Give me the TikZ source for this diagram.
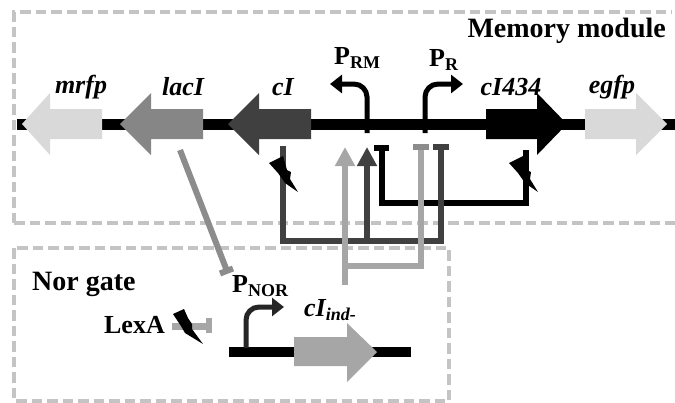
\documentclass[tikz,border=0pt]{standalone}
\usepackage{fontspec}
\setmainfont{Liberation Serif}
\usetikzlibrary{arrows.meta}
\definecolor{boxgray}{HTML}{C4C4C4}
\definecolor{darkline}{HTML}{404040}
\definecolor{lightline}{HTML}{A6A6A6}
\definecolor{midline}{HTML}{8C8C8C}
\tikzset{
  boxline/.style={boxgray,line width=3.2pt,dash pattern=on 10.5pt off 5pt},
  spine/.style={line width=10.5pt},
  promoter/.style={line width=5pt,rounded corners=13pt,-{Triangle[length=12pt,width=18pt]}},
  regline/.style={line width=6pt},
  genename/.style={font=\fontsize{26}{26}\selectfont\bfseries\itshape,inner sep=0pt},
  boldname/.style={font=\fontsize{28}{28}\selectfont\bfseries,inner sep=0pt},
  prname/.style={font=\fontsize{26}{26}\selectfont\bfseries,inner sep=0pt}
}
\newcommand{\subname}[1]{\raisebox{-4pt}{\fontsize{18}{18}\selectfont #1}}
\begin{document}
\begin{tikzpicture}[x=1pt,y=-1pt]
\useasboundingbox (0,0) rectangle (675,402);

% boxes
\draw[boxline] (14,223)--(14,12)--(672,12);
\draw[boxline] (14,223)--(675,223);
\draw[boxline] (14,248) rectangle (449,401);

% DNA
\draw[spine] (17,124.5)--(675,124.5);
\draw[spine] (229,352)--(411,352);

% genes
\fill[gray!30] (22,124) -- (50,93) -- (50,109) -- (102,109) -- (102,139) -- (50,139) -- (50,155) -- cycle;
\fill[gray!95] (120,124) -- (151,93) -- (151,109) -- (203,109) -- (203,139) -- (151,139) -- (151,155) -- cycle;
\fill[darkline] (228,124) -- (259,93) -- (259,109) -- (311,109) -- (311,139) -- (259,139) -- (259,155) -- cycle;
\fill[black] (567,124) -- (537,93) -- (537,109) -- (486,109) -- (486,139) -- (537,139) -- (537,155) -- cycle;
\fill[gray!30] (667,124) -- (636,93) -- (636,109) -- (585,109) -- (585,139) -- (636,139) -- (636,155) -- cycle;
\fill[lightline] (377,352) -- (347,323) -- (347,337) -- (294,337) -- (294,366) -- (347,366) -- (347,382) -- cycle;

% promoters
\coordinate (prm) at (367,133);
\coordinate (pr) at (425,133);
\coordinate (pnor) at (246,348);
\draw[promoter] (prm)--(367,84)--(330,84);
\draw[promoter] (pr)--(425,84)--(463,84);
\draw[promoter,color=black!85] (pnor)--(246,307)--(284,307);

% repression lines
\coordinate (cibar) at (382,148);
\draw[regline] (526,150)--(526,203)--(382,203)--(cibar);
\draw[regline] (374,148)--(389,148);
\draw[regline,darkline] (283,146)--(283,241)--(441,241)--(441,147);
\draw[regline,darkline] (433,147)--(449,147);
\draw[regline,darkline,-{Triangle[length=19pt,width=19pt]}] (367,241)--(367,147);
\draw[regline,lightline,-{Triangle[length=19pt,width=19pt]}] (345,285)--(345,147);
\draw[regline,lightline] (345,266)--(421,266)--(421,147);
\draw[regline,midline] (413,147)--(429,147);
\draw[regline,midline] (180,150)--(227,271);
\draw[regline,midline] (220,273.5)--(233,268.5);
\draw[line width=7pt,color=gray!70] (172,326.5)--(209,326.5);
\draw[regline,color=gray!70] (209,318)--(209,333);

% bolts
\fill (283,156)--(287,170)--(291,172)--(290,179)--(298,192)--(285,183)--(278,173)--(269,163)--cycle;
\fill (523,156)--(527,170)--(531,172)--(530,179)--(538,192)--(525,183)--(518,173)--(509,163)--cycle;
\fill (184,309)--(188,318)--(192,324)--(192,329)--(203,344)--(185,333)--(181,326)--(173,314)--cycle;

% labels
\node[boldname,anchor=east] (memlabel) at (666,31) {Memory module};
\node[boldname,anchor=west] (norlabel) at (32,284) {Nor gate};
\node[prname,anchor=east] (lexalabel) at (165,325) {LexA};
\node[genename] (mrfplabel) at (81,87) {mrfp};
\node[genename] (laclabel) at (183,87) {lacI};
\node[genename] (cilabel) at (283,87) {cI};
\node[genename] (ci434label) at (511,87) {cI434};
\node[genename] (egfplabel) at (612,87) {egfp};
\node[prname,anchor=west] (prmlabel) at (334,58) {P\subname{RM}};
\node[prname,anchor=west] (prlabel) at (429,60) {P\subname{R}};
\node[prname,anchor=west] (pnorlabel) at (232,286) {P\subname{NOR}};
\node[genename,anchor=west] (indlabel) at (304,310) {cI\raisebox{-4pt}{\fontsize{18}{18}\selectfont ind-}};
\end{tikzpicture}
\end{document}
